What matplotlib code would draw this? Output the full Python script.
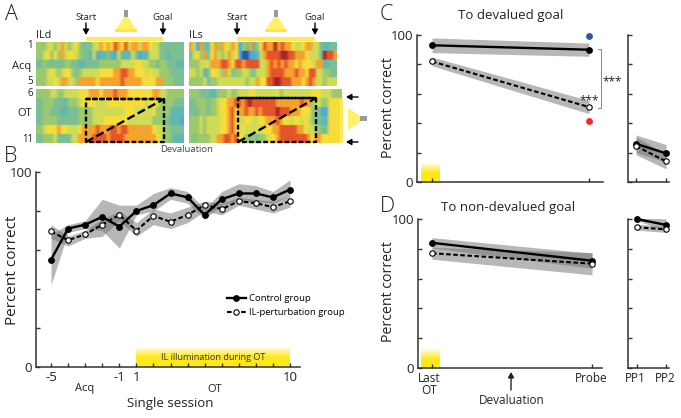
import matplotlib
matplotlib.use("Agg")
import matplotlib.pyplot as plt
from matplotlib.colors import ListedColormap
from matplotlib.patches import Polygon, Rectangle
import numpy as np

plt.rcParams['font.family'] = 'Open Sans'
W, H = 681, 418

# heat map levels, 0 = dark blue ... 9 = dark red
ild_acq = ["4445545754 5643335576 7687685775 7765533333 33",
           "4456464756 6543325122 3215222531 2255533233 33",
           "3343333344 3322333344 4444555566 5544344333 22",
           "4445654566 4345555566 6677887766 6565544433 33",
           "4445565775 5477777677 7777877777 6666774443 33"]
ild_ot = ["4444554455 5566677767 7787776666 6667755444 44",
          "3344433324 4456666555 6666666666 6566544443 33",
          "3344333223 3344445555 5555566655 5556444422 22",
          "3344443333 3344445556 6666665555 5554443322 21",
          "4456667665 5567777877 7887887777 7776554433 33",
          "3344453333 5577778888 7888877777 7777654432 22"]
ils_acq = ["7517326747 6576143724 6877978776 5567755322 33",
           "3564736754 5756100112 5788889988 7776555398 87",
           "4445557778 8768878888 5578787877 6766657722 33",
           "5545236654 7534455435 5578888777 8776885544 33",
           "4444534455 5555554557 6688998887 7767875545 55"]
ils_ot = ["4443332244 4544555665 5555564555 5555566655 5444",
          "3344434456 6778878988 8888877777 7787745544 6666",
          "3334434456 6786778778 7888898887 7766643311 6666",
          "4445455556 6786556655 6677787665 6656543322 6666",
          "4445455556 6786565555 5666778888 8776554433 6666",
          "4344445577 8878664343 4456678888 8888767766 6666"]
heat_colors = ['#2c55a8', '#4fa9d6', '#62b8b0', '#7cbf94', '#9cc96e',
               '#cfdc55', '#f6de3a', '#f5a32e', '#e5552a', '#a5232a']

# panel B
sessions = [-5, -4, -3, -2, -1, 1, 2, 3, 4, 5, 6, 7, 8, 9, 10]
session_ticks = {-5: '-5', -1: '-1', 1: '1', 10: '10'}
control = [55, 71, 73, 77, 72, 80, 83, 89, 87, 78, 86, 89, 89, 87, 91]
control_hi = [68, 73, 75, 86, 83, 83, 89, 92, 90, 81, 90, 94, 93, 90, 96]
control_lo = [42, 69, 71, 70, 61, 78, 80, 86, 84, 76, 83, 85, 85, 84, 88]
perturb = [69.5, 65, 68, 73, 78, 70, 77.5, 74.5, 78, 83, 81, 85, 84, 82, 85]
perturb_hi = [73, 67, 70, 76, 80, 74, 81, 79, 82, 85, 84, 87, 86, 85, 88]
perturb_lo = [66, 62, 66, 67, 75, 67, 73, 71, 74, 80, 78, 83, 81, 79, 82]

# panels C and D, (last OT, probe) then (PP1, PP2)
c_control, c_perturb = [93, 90], [82, 51]
c_control_err, c_perturb_err = [5, 4.5], [3, 4.5]
c_pp_control, c_pp_perturb = [26, 19.5], [24.5, 14]
c_pp_control_err, c_pp_perturb_err = [6, 6], [6, 5]
d_control, d_perturb = [84, 72], [77, 70]
d_control_err, d_perturb_err = [3.5, 5], [4, 7.5]
d_pp_control, d_pp_perturb = [100, 96], [94.5, 93]
d_pp_control_err, d_pp_perturb_err = [1, 4], [2, 2]
c_blue, c_red = 99, 41.5

BAND = dict(color='#707070', alpha=0.5, lw=0, zorder=1)
MS = 3.9


def px_axes(x0, y0, x1, y1):
    return fig.add_axes([x0 / W, 1 - y1 / H, (x1 - x0) / W, (y1 - y0) / H])


def style(ax):
    for s in ['top', 'right']:
        ax.spines[s].set_visible(False)
    for s in ['left', 'bottom']:
        ax.spines[s].set_linewidth(1.1)
        ax.spines[s].set_color('#333333')
    ax.tick_params(direction='in', length=3, width=1, color='#333333',
                   labelsize=9.5, labelcolor='#222222', pad=3)
    ax.patch.set_alpha(0)
    ax.set_ylim(0, 100)
    ax.set_yticks(range(0, 101, 20))
    ax.set_yticklabels(['0', '', '', '', '', '100'])


def yellow_fade(ax, x0, x1, top):
    rgba = np.ones((40, 2, 4))
    rgba[..., 0], rgba[..., 1], rgba[..., 2] = 1.0, 0.91, 0.1
    rgba[..., 3] = np.clip(np.linspace(0, 1.9, 40), 0, 1)[:, None]
    xl, yl = ax.get_xlim(), ax.get_ylim()
    ax.imshow(rgba, extent=[x0, x1, 0, top], origin='upper', aspect='auto', zorder=0)
    ax.set_xlim(xl)
    ax.set_ylim(yl)


def pair(ax, x, a, a_err, b, b_err):
    a, b, a_err, b_err = map(np.array, (a, b, a_err, b_err))
    ax.fill_between(x, a - a_err, a + a_err, **BAND)
    ax.fill_between(x, b - b_err, b + b_err, **BAND)
    ax.plot(x, a, '-o', color='k', lw=1.7, ms=MS, clip_on=False, zorder=3)
    ax.plot(x, b, '--o', color='k', lw=1.5, ms=MS, mfc='w', mew=0.8,
            dashes=(2.2, 1.2), clip_on=False, zorder=4)


fig = plt.figure(figsize=(W / 100, H / 100), dpi=100)

# panel A
cmap = ListedColormap(heat_colors)
for rows, box in [(ild_acq, (36, 42, 184, 86)), (ild_ot, (36, 89, 184, 143)),
                  (ils_acq, (189, 42, 337, 86)), (ils_ot, (189, 89, 342, 143))]:
    grid = np.array([[int(c) for c in r.replace(' ', '')] for r in rows])
    ax = px_axes(*box)
    # rows stay separate, only the columns blur into each other
    ax.imshow(np.repeat(grid, 12, axis=0), cmap=cmap, vmin=0, vmax=9, aspect='auto',
              interpolation='bilinear', interpolation_stage='rgba')
    ax.axis('off')

# panel B
ax = px_axes(36, 172, 300, 367)
style(ax)
pos = np.arange(len(sessions)) - 5
ax.set_xlim(-5 - 15 / 17.07, 9 + 10 / 17.07)
ax.fill_between(pos, control_lo, control_hi, **BAND)
ax.fill_between(pos, perturb_lo, perturb_hi, **BAND)
yellow_fade(ax, 0, 9, 10.5)
ax.plot(pos, control, '-o', color='k', lw=1.7, ms=MS, zorder=3, label='Control group')
ax.plot(pos, perturb, '--o', color='k', lw=1.5, ms=MS, mfc='w', mew=0.8,
        dashes=(2.2, 1.2), zorder=4, label='IL-perturbation group')
ax.set_xticks(pos)
ax.set_xticklabels([session_ticks.get(s, '') for s in sessions])
ax.legend(loc='lower left', bbox_to_anchor=(0.723, 0.255), frameon=False, fontsize=6.8,
          handlelength=2.0, handletextpad=0.3, labelspacing=0.55, borderpad=0, borderaxespad=0)

# panel C
ax = px_axes(417, 35, 603, 182)
ax.set_xlim(-0.096, 1.09)
style(ax)
ax.set_xticks([0, 1])
ax.set_xticklabels([])
yellow_fade(ax, -0.07, 0.045, 13)
pair(ax, [0, 1], c_control, c_control_err, c_perturb, c_perturb_err)
ax.plot([1], [c_blue], 'o', color='#2f55a4', ms=MS, clip_on=False)
ax.plot([1], [c_red], 'o', color='#ee2a2f', ms=MS)

ax = px_axes(628, 35, 669, 182)
ax.set_xlim(-0.27, 1.1)
style(ax)
ax.set_xticks([0, 1])
ax.set_xticklabels([])
ax.set_yticklabels([])
pair(ax, [0, 1], c_pp_control, c_pp_control_err, c_pp_perturb, c_pp_perturb_err)

# panel D
ax = px_axes(418, 219, 602, 368)
ax.set_xlim(-0.0875, 1.0625)
style(ax)
ax.set_xticks([0, 1])
ax.set_xticklabels([])
yellow_fade(ax, -0.07, 0.045, 13)
pair(ax, [0, 1], d_control, d_control_err, d_perturb, d_perturb_err)

ax = px_axes(628, 219, 669, 368)
ax.set_xlim(-0.3, 1.1)
style(ax)
ax.set_xticks([0, 1])
ax.set_xticklabels([])
ax.set_yticklabels([])
pair(ax, [0, 1], d_pp_control, d_pp_control_err, d_pp_perturb, d_pp_perturb_err)

# overlay in pixel coordinates for annotation
ov = fig.add_axes([0, 0, 1, 1], zorder=10)
ov.set_xlim(0, W)
ov.set_ylim(H, 0)
ov.axis('off')


def label(x, y, s, size=8, ha='center', **kw):
    ov.text(x, y, s, fontsize=size, ha=ha, va='center', color=kw.pop('color', '#222222'), **kw)


def arrow(x0, y0, x1, y1, color='k'):
    ov.annotate('', xy=(x1, y1), xytext=(x0, y0),
                arrowprops=dict(arrowstyle='-|>,head_width=0.18,head_length=0.32',
                                color=color, lw=1, shrinkA=0, shrinkB=0))


for s, x, y in [('A', 11, 15), ('B', 11, 156), ('C', 386, 15), ('D', 387, 206)]:
    label(x, y, s, size=15.5, fontweight='light')

for cx, x0, x1 in [(126, 86, 163), (276, 237, 315)]:
    ov.add_patch(Rectangle((x0, 36.5), x1 - x0, 4, color='#ffe95a', lw=0))
    ov.add_patch(Rectangle((cx - 2, 10), 4, 7, color='#9a9a9a', lw=0))
    ov.add_patch(Polygon([(cx - 2, 17), (cx + 2, 17), (cx + 11, 31), (cx - 11, 31)],
                         color='#fff06a', lw=0))
    ov.add_patch(Rectangle((cx - 11, 29), 22, 3, color='#ffe833', lw=0))
    label(x0, 17, 'Start', 6.8)
    label(x1, 17, 'Goal', 6.8)
    arrow(x0, 23, x0, 35)
    arrow(x1, 23, x1, 35)
label(36, 36, 'ILd', 7.8, ha='left')
label(189, 36, 'ILs', 7.8, ha='left')
for s, y in [('1', 46), ('5', 82), ('6', 94), ('11', 139)]:
    label(33, y, s, 7, ha='right')
label(22, 66, 'Acq', 8)
label(25, 114, 'OT', 8)
label(187, 149, 'Devaluation', 6.8, color='#444444')

# dashed boxes with the diagonal
for x0, x1, y0 in [(86, 164, 99), (238, 316, 98)]:
    ov.plot([x0, x1, x1, x0, x0, x1], [y0, y0, 142, 142, y0, y0], color='k', lw=1.7,
            dashes=(2, 1))
    ov.plot([x0, x1], [142, y0], color='k', lw=1.7, dashes=(3.5, 1.5))

# light on the right of A
ov.add_patch(Rectangle((340, 99), 3, 44, color='#ffe95a', lw=0))
ov.add_patch(Polygon([(348, 108), (348, 130), (360, 122), (360, 116)], color='#fff06a', lw=0))
ov.add_patch(Rectangle((360, 116), 7, 5, color='#9a9a9a', lw=0))
arrow(358, 97, 346, 97)
arrow(358, 142, 346, 142)

label(13, 270, 'Percent correct', 11, rotation=90)
label(85, 389, 'Acq', 8)
label(215, 389, 'OT', 8)
label(170, 404, 'Single session', 9.5)
label(213, 357, 'IL illumination during OT', 6.6, color='#333333')

label(511, 16, 'To devalued goal', 9.5)
label(388, 108, 'Percent correct', 10.2, rotation=90)
ov.plot([598, 601, 601, 598], [49, 49, 108, 108], color='#888888', lw=0.7)
label(612, 82, '***', 8.5)
label(589, 101, '***', 8.5)

label(508, 208, 'To non-devalued goal', 9.5)
label(388, 292, 'Percent correct', 10.2, rotation=90)
label(429, 378, 'Last', 8.5)
label(429, 390, 'OT', 8.5)
label(591, 378, 'Probe', 8.5)
label(635, 378, 'PP1', 8.5)
label(665, 378, 'PP2', 8.5)
label(512, 400, 'Devaluation', 8.5)
arrow(511, 390, 511, 372, color='#222222')

fig.savefig('out.png', dpi=100)
